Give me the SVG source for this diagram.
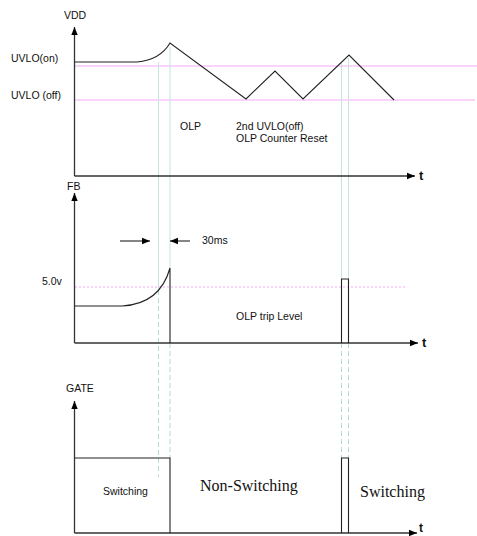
<svg xmlns="http://www.w3.org/2000/svg" width="477" height="536" viewBox="0 0 477 536">
<defs>
<marker id="ah" viewBox="0 0 10 10" refX="10" refY="5" markerWidth="8" markerHeight="8" markerUnits="userSpaceOnUse" orient="auto">
<path d="M0,1 L10,5 L0,9 Z" fill="#000"/>
</marker>
<marker id="ahw" viewBox="0 0 10 10" refX="10" refY="5" markerWidth="10" markerHeight="8" markerUnits="userSpaceOnUse" orient="auto">
<path d="M0,1 L10,5 L0,9 Z" fill="#000"/>
</marker>
</defs>
<style>
.ax{stroke:#333;stroke-width:1.3;fill:none}
.sig{stroke:#222;stroke-width:1.1;fill:none}
.pink{stroke:#f4a8f4;stroke-width:1;fill:none}
.pinkd{stroke:#f4a8f4;stroke-width:1;fill:none;stroke-dasharray:2,2}
.cy{stroke:#c4e4dc;stroke-width:1;fill:none}
.cyd{stroke:#b4dccf;stroke-width:1;fill:none;stroke-dasharray:5,3}
.s{font-family:"Liberation Sans",Arial,sans-serif;font-size:10.5px;fill:#111}
.r{font-family:"Liberation Serif","Times New Roman",serif;font-size:16px;fill:#111}
.t{font-family:"Liberation Sans",Arial,sans-serif;font-size:13px;font-weight:bold;fill:#111}
</style>
<g id="guides">
<line class="pink" x1="75" y1="66" x2="477" y2="66"/>
<line class="pink" x1="75" y1="100" x2="475" y2="100"/>
<line class="pinkd" x1="75" y1="287" x2="406" y2="287"/>
<line class="cy" x1="158.5" y1="62" x2="158.5" y2="290"/>
<line class="cyd" x1="158.5" y1="290" x2="158.5" y2="477"/>
<line class="cy" x1="170" y1="47" x2="170" y2="268"/>
<line class="cyd" x1="170" y1="343" x2="170" y2="458"/>
<line class="cy" x1="341.5" y1="63" x2="341.5" y2="279"/>
<line class="cyd" x1="341.5" y1="343" x2="341.5" y2="458"/>
<line class="cy" x1="348.5" y1="58" x2="348.5" y2="279"/>
<line class="cyd" x1="348.5" y1="343" x2="348.5" y2="458"/>
</g>
<g id="vdd-panel">
<line class="ax" x1="74.5" y1="176" x2="74.5" y2="27" marker-end="url(#ah)"/>
<line class="ax" x1="74.5" y1="176" x2="415" y2="176" marker-end="url(#ahw)"/>
<text class="s" x="64" y="19">VDD</text>
<text class="t" x="419" y="180">t</text>
<text class="s" x="11" y="62">UVLO(on)</text>
<text class="s" x="11" y="99">UVLO (off)</text>
<path class="sig" d="M75,62 L137,62 Q160,60 170,43 L246,99 L275,71 L303,99 L349,55 L394,100"/>
<text class="s" x="180" y="130">OLP</text>
<text class="s" x="236" y="130">2nd UVLO(off)</text>
<text class="s" x="236" y="142">OLP Counter Reset</text>
</g>
<g id="fb-panel">
<line class="ax" x1="74.5" y1="343" x2="74.5" y2="193" marker-end="url(#ah)"/>
<line class="ax" x1="74.5" y1="343" x2="418" y2="343" marker-end="url(#ahw)"/>
<text class="s" x="67" y="190">FB</text>
<text class="t" x="422" y="347">t</text>
<text class="s" x="42" y="285">5.0v</text>
<path class="sig" d="M75,306 L122,306 Q160,304 170,268 L170,343"/>
<path class="sig" d="M341.5,343 L341.5,279 L348.5,279 L348.5,343"/>
<line class="sig" x1="120" y1="241" x2="150" y2="241" marker-end="url(#ah)"/>
<line class="sig" x1="190" y1="241" x2="170" y2="241" marker-end="url(#ah)"/>
<text class="s" x="202" y="244">30ms</text>
<text class="s" x="236" y="320">OLP trip Level</text>
</g>
<g id="gate-panel">
<line class="ax" x1="74.5" y1="533" x2="74.5" y2="401" marker-end="url(#ah)"/>
<line class="ax" x1="74.5" y1="533" x2="417" y2="533" marker-end="url(#ahw)"/>
<text class="s" x="66" y="392">GATE</text>
<text class="t" x="419" y="532" style="font-size:12px">t</text>
<path class="sig" d="M75,458 L170,458 L170,533"/>
<path class="sig" d="M341.5,533 L341.5,458 L348.5,458 L348.5,533"/>
<text class="s" x="103" y="495">Switching</text>
<text class="r" x="200" y="491">Non-Switching</text>
<text class="r" x="360" y="497">Switching</text>
</g>
</svg>
